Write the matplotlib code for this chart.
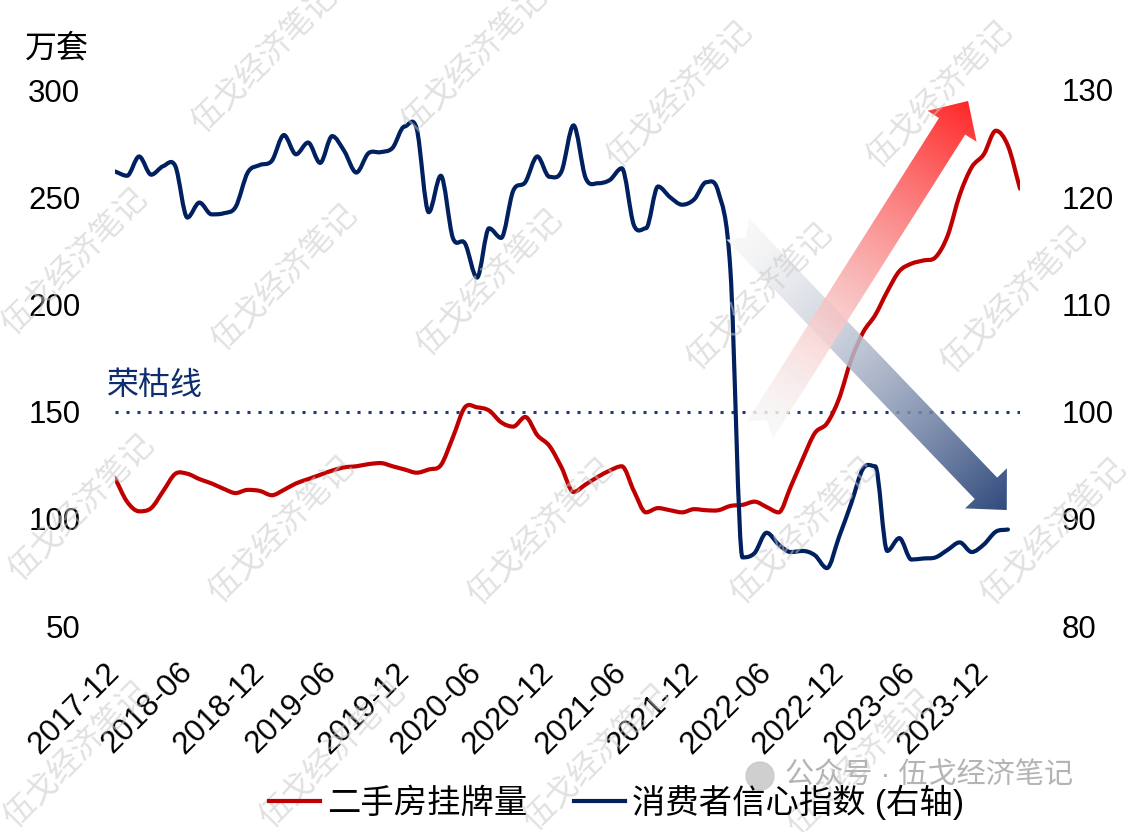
import numpy as np
import pandas as pd
import matplotlib
matplotlib.use('Agg')
import matplotlib.pyplot as plt
from matplotlib.patches import Polygon, Circle, PathPatch
from matplotlib.path import Path
from matplotlib.lines import Line2D

plt.rcParams['font.family'] = ['Liberation Sans', 'Noto Sans CJK SC']

# データ（月次, 2017-12 起点）
months = pd.period_range('2017-12', '2024-03', freq='M').strftime('%Y-%m').tolist()

# 二手房挂牌量（万套, 左轴）
listing = [119, 108, 103.5, 105, 113, 121, 121, 118.5, 116.5, 114,
           112, 113.5, 113, 111, 113.5, 116.5, 118.5, 120.5, 122.5, 124,
           124.5, 125.5, 126, 124.5, 123, 121.5, 123, 125, 138, 152,
           152, 150.5, 145, 143, 147.5, 139, 134, 124, 112.5, 116,
           119.5, 122.5, 124.5, 113, 103, 105, 104, 103, 104.5, 104,
           104, 106, 106.5, 108, 105.5, 103, 115, 128, 140, 144.5,
           156, 174, 187, 195, 206, 215.5, 219, 220.5, 222, 232,
           251, 264, 270, 281, 274, 254]

# 消费者信心指数（右轴）, 2017-12 ~ 2024-02
confidence = [122.4, 122.0, 123.8, 122.1, 122.9, 122.9, 118.1, 119.5, 118.4, 118.5,
              119.1, 122.3, 123.0, 123.4, 125.8, 124.0, 125.1, 123.2, 125.7, 124.3,
              122.3, 124.1, 124.2, 124.6, 126.6, 126.4, 118.6, 122.0, 116.2, 115.7,
              112.5, 117.1, 116.2, 120.6, 121.4, 123.8, 121.9, 122.4, 126.7, 121.8,
              121.3, 121.6, 122.7, 117.4, 117.1, 121.0, 120.0, 119.3, 119.8, 121.4,
              120.5, 113.2, 86.4, 86.8, 88.7, 87.6, 86.9, 87.0, 86.6, 85.4,
              88.3, 91.4, 94.7, 94.9, 87.0, 88.2, 86.2, 86.3, 86.4, 87.1,
              87.8, 86.9, 87.6, 88.8, 89.0]

tick_labels = ['2017-12', '2018-06', '2018-12', '2019-06', '2019-12', '2020-06', '2020-12',
               '2021-06', '2021-12', '2022-06', '2022-12', '2023-06', '2023-12']
tick_pos = [months.index(m) for m in tick_labels]

left_ticks = [50, 100, 150, 200, 250, 300]
right_ticks = [80, 90, 100, 110, 120, 130]
boom_bust = 150

# 矢印（左轴データ座標: 月インデックス, 値）
red_arrow = ((53.45, 141.4), (70.7, 294.9))
blue_arrow = ((51.6, 235.2), (73.9, 104.1))

RED = '#c00000'
NAVY = '#002060'
FS = 22.5

W, H = 1129, 832
fig = plt.figure(figsize=(W / 100, H / 100), dpi=100)
ax = fig.add_axes([115 / W, 1 - 626 / H, 905 / W, 536 / H])
ax2 = ax.twinx()


def smooth_path(y):
    # 各点を通る3次ベジェ（平滑線）。山と谷では接線を水平にして行き過ぎを防ぐ
    y = np.asarray(y, dtype=float)
    n = len(y)
    m = np.zeros(n)
    for i in range(n):
        a = y[i] - y[i - 1] if i > 0 else y[1] - y[0]
        b = y[i + 1] - y[i] if i < n - 1 else y[-1] - y[-2]
        m[i] = 0 if a * b < 0 else (a + b) / 2
    verts, codes = [(0, y[0])], [Path.MOVETO]
    for i in range(n - 1):
        verts += [(i + 1 / 3, y[i] + m[i] / 3), (i + 2 / 3, y[i + 1] - m[i + 1] / 3), (i + 1, y[i + 1])]
        codes += [Path.CURVE4] * 3
    return Path(verts, codes)


ax.add_patch(PathPatch(smooth_path(listing), fc='none', ec=RED, lw=3,
                       capstyle='round', joinstyle='round', zorder=3))
ax2.add_patch(PathPatch(smooth_path(confidence), fc='none', ec=NAVY, lw=3,
                        capstyle='round', joinstyle='round', zorder=3))
ax.axhline(boom_bust, color='#1f3a7a', lw=2.2, ls=(0, (1, 2.6)), zorder=2)
ax.text(-0.7, boom_bust + 5, '荣枯线', color='#0e2d6e', fontsize=23,
        ha='left', va='bottom', clip_on=False)

ax.set_xlim(0, len(listing) - 1)
ax.set_ylim(50, 300)
ax2.set_ylim(80, 130)
ax.set_yticks(left_ticks)
ax2.set_yticks(right_ticks)
ax.set_xticks(tick_pos)
ax.set_xticklabels(tick_labels, rotation=45, ha='right', va='center',
                   rotation_mode='anchor')

for a in (ax, ax2):
    for s in a.spines.values():
        s.set_visible(False)
ax.tick_params(axis='y', length=0, labelsize=FS, pad=25)
ax.tick_params(axis='x', length=0, labelsize=FS, pad=30)
ax2.tick_params(axis='y', length=0, labelsize=FS, pad=30)

fig.text(25 / W, 1 - 49 / H, '万套', fontsize=23, ha='left', va='center')

handles = [Line2D([], [], color=RED, lw=3), Line2D([], [], color=NAVY, lw=3)]
fig.legend(handles, ['二手房挂牌量', '消费者信心指数 (右轴)'], loc='center',
           bbox_to_anchor=(0.546, 1 - 802 / H), ncol=2, frameon=False, fontsize=24,
           handlelength=1.55, handletextpad=0.2, columnspacing=1.4)

# オーバーレイ（ピクセル座標, 上が0）
ov = fig.add_axes([0, 0, 1, 1], zorder=5)
ov.set_xlim(0, W)
ov.set_ylim(H, 0)
ov.axis('off')


def to_px(pt):
    X, Y = ax.transData.transform(pt)
    return np.array([X, H - Y])


def gradient_arrow(tail, tip, color, shaft=31, head_w=58, head_len=30, notch=12, alpha=0.85):
    p0, p1 = to_px(tail), to_px(tip)
    d = p1 - p0
    L = np.hypot(*d)
    u = d / L
    n = np.array([-u[1], u[0]])
    base = p1 - u * head_len
    pts = np.array([p0 + n * shaft / 2, base + n * shaft / 2, base + n * head_w / 2, p1,
                    base - n * head_w / 2, base - n * shaft / 2, p0 - n * shaft / 2,
                    p0 + u * notch])
    poly = Polygon(pts, closed=True, facecolor='none', edgecolor='none')
    ov.add_patch(poly)
    x0, y0 = pts.min(axis=0) - 2
    x1, y1 = pts.max(axis=0) + 2
    nx, ny = int(x1 - x0) + 1, int(y1 - y0) + 1
    X, Y = np.meshgrid(np.linspace(x0, x1, nx), np.linspace(y0, y1, ny))
    t = np.clip(((X - p0[0]) * u[0] + (Y - p0[1]) * u[1]) / L, 0, 1) ** 1.5
    c = np.array(matplotlib.colors.to_rgb(color))
    img = np.empty((ny, nx, 4))
    for k in range(3):
        img[..., k] = 0.97 * (1 - t) + c[k] * t
    img[..., 3] = alpha
    im = ov.imshow(img, extent=(x0, x1, y1, y0), origin='upper',
                   interpolation='bilinear', aspect='auto', zorder=6)
    im.set_clip_path(poly)


gradient_arrow(*blue_arrow, '#0b2a66')
gradient_arrow(*red_arrow, '#ff0000')
ov.set_xlim(0, W)
ov.set_ylim(H, 0)

# 透かし
marks = [(265, 60), (475, 60), (680, 95), (940, 95),
         (75, 262), (285, 278), (490, 283), (760, 297), (1014, 300),
         (82, 508), (282, 530), (541, 532), (804, 531), (1054, 532),
         (77, 755), (333, 755), (597, 758), (861, 763)]
for mx, my in marks:
    ov.text(mx, my, '伍戈经济笔记', rotation=45, fontsize=23, color='#c8c8c8',
            alpha=0.55, ha='center', va='center', zorder=8)

ov.add_patch(Circle((760, 776), 14, color='#c4c4c4', alpha=0.8, zorder=8))
ov.text(785, 776, '公众号 · 伍戈经济笔记', fontsize=21, color='#b4b4b4',
        ha='left', va='center', zorder=8)

fig.savefig('out.png', dpi=100)
